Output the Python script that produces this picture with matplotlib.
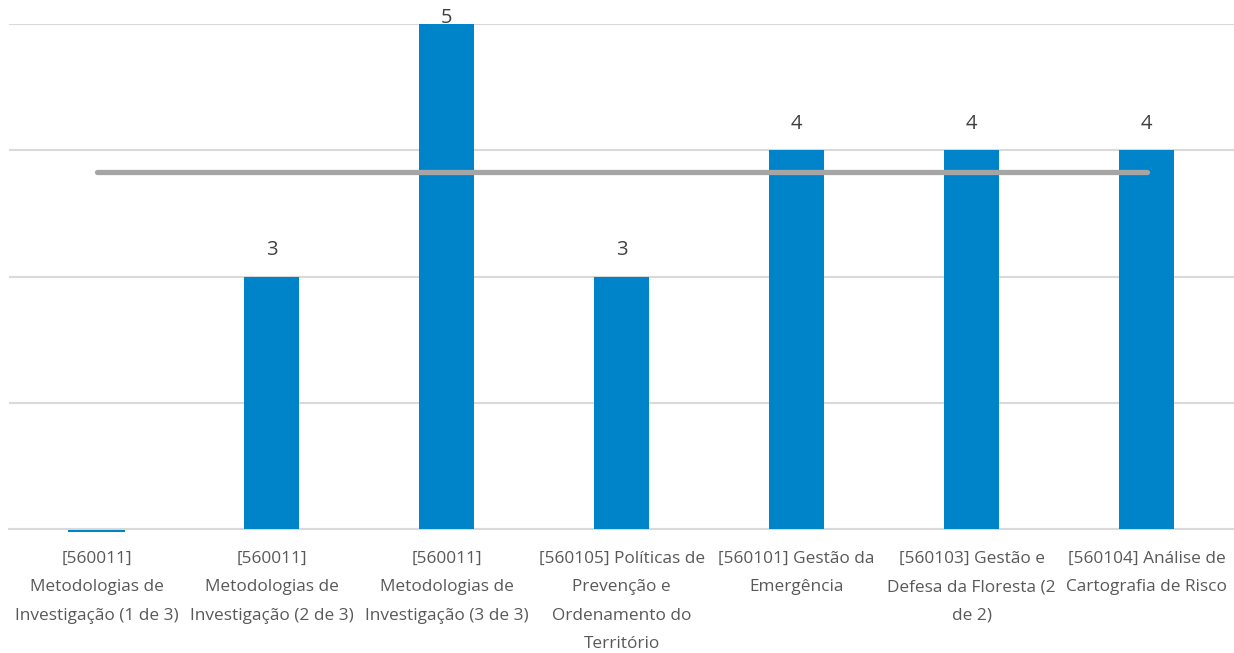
import matplotlib
matplotlib.use("Agg")
import matplotlib.pyplot as plt
import matplotlib.transforms as mtransforms
import numpy as np

categories = [
    "[560011]\nMetodologias de\nInvestigação (1 de 3)",
    "[560011]\nMetodologias de\nInvestigação (2 de 3)",
    "[560011]\nMetodologias de\nInvestigação (3 de 3)",
    "[560105] Políticas de\nPrevenção e\nOrdenamento do\nTerritório",
    "[560101] Gestão da\nEmergência",
    "[560103] Gestão e\nDefesa da Floresta (2\nde 2)",
    "[560104] Análise de\nCartografia de Risco",
]
values = [0, 3, 5, 3, 4, 4, 4]
average = [3.83] * 7

plt.rcParams['font.family'] = ['Open Sans', 'DejaVu Sans']

fig = plt.figure(figsize=(12.34, 6.53), dpi=100)
ax = fig.add_axes([0.0076, 1 - 529 / 653, 0.9924, (529 - 24) / 653])

ymin, ymax = 1, 5
x = np.arange(len(categories))
bar_color = "#0084C9"

heights = [v - ymin for v in values]
ax.bar(x, heights, bottom=ymin, width=0.315, color=bar_color, zorder=3)
# zero values render as a thin sliver just below the baseline
below = mtransforms.offset_copy(ax.transData, fig=fig, x=0, y=-1.5, units="dots")
for xi, v in zip(x, values):
    if v <= ymin:
        ax.plot([xi - 0.1575, xi + 0.1575], [ymin, ymin], color=bar_color,
                lw=1.5, clip_on=False, zorder=3, transform=below)

ax.plot(x, average, color="#A5A5A5", lw=3.8, solid_capstyle="round", zorder=4)

for xi, v in zip(x, values):
    if v > ymin:
        ax.text(xi, min(v + 0.21, ymax + 0.05), str(v), ha="center", va="center",
                fontsize=14.5, color="#404040", zorder=5)

ax.set_ylim(ymin, ymax)
ax.set_xlim(-0.5, 6.5)
ax.set_yticks([1, 2, 3, 4, 5])
ax.yaxis.grid(True, color="#D9D9D9", lw=1.5, zorder=0)
ax.tick_params(axis="y", left=False, labelleft=False)
ax.tick_params(axis="x", bottom=False, pad=12)
ax.set_xticks(x)
ax.set_xticklabels(categories, fontsize=12.4, color="#595959", linespacing=2.05)
for s in ["left", "right", "top"]:
    ax.spines[s].set_visible(False)
ax.spines["bottom"].set_color("#D9D9D9")
ax.spines["bottom"].set_linewidth(1.5)

fig.savefig("out.png", dpi=100)
